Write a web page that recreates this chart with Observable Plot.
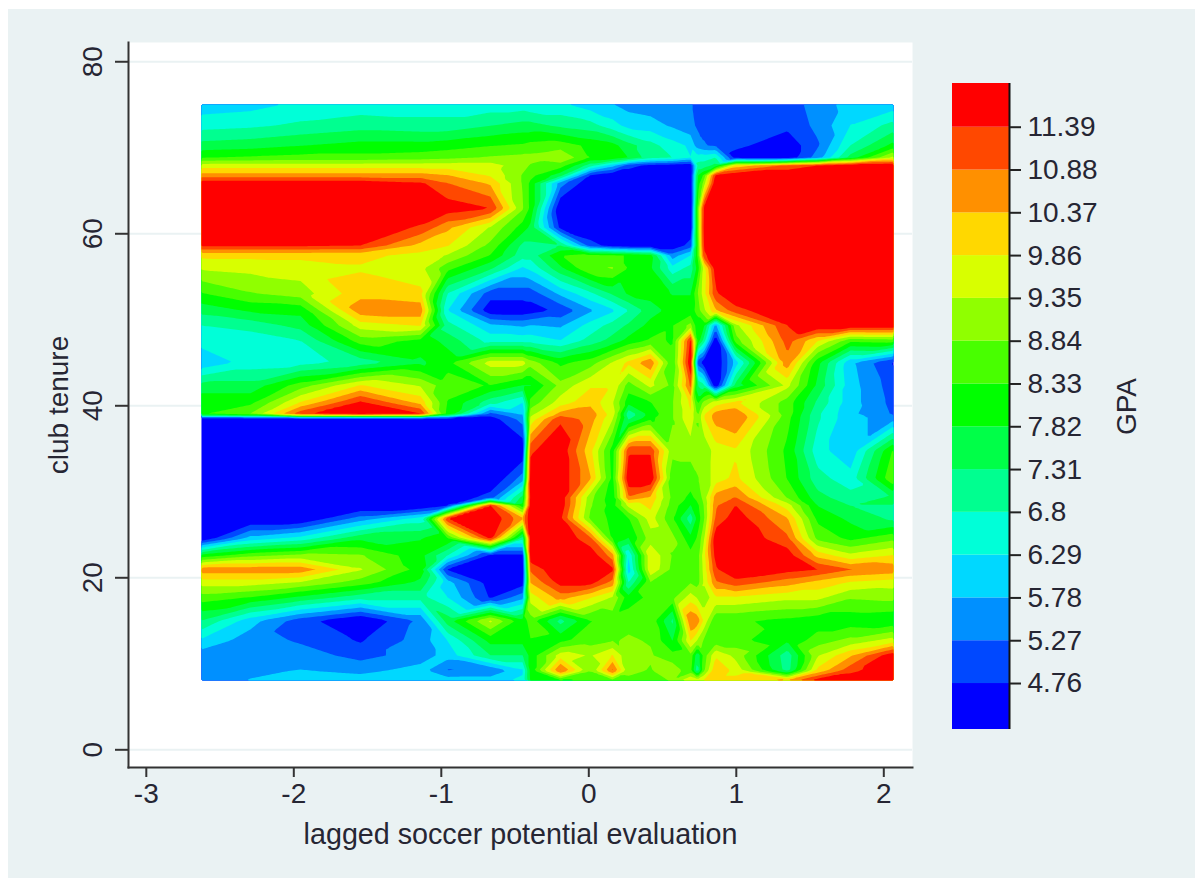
<!DOCTYPE html>
<html><head><meta charset="utf-8">
<script src="https://cdn.jsdelivr.net/npm/d3@7"></script>
<script src="https://cdn.jsdelivr.net/npm/@observablehq/plot@0.6"></script>
<style>
html,body{margin:0;padding:0;background:#fff;width:1204px;height:879px;overflow:hidden}
#panel{position:absolute;left:8px;top:9px;width:1187px;height:869px;background:#eaf2f3}
#main,#bar{position:absolute;left:0;top:0}
svg{background:transparent!important;display:block}
</style></head><body>
<div id="panel"></div><div id="main"></div><div id="bar"></div>
<script>
const xValues=[-2.626,-2.293,-1.954,-1.548,-1.141,-0.958,-0.667,-0.449,-0.395,-0.192,0.012,0.161,0.27,0.418,0.567,0.690,0.737,0.778,0.859,0.995,1.347,1.551,1.774,2.066];
const yValues=[75.03,72.59,70.27,68.87,67.94,66.78,65.85,62.94,60.73,58.64,57.48,55.97,53.06,51.08,49.34,47.59,45.03,42.36,40.38,38.99,38.52,34.80,31.55,29.34,28.41,26.90,24.57,22.59,20.97,19.45,17.71,15.03,12.71,10.97,9.22,8.06];
const gpaRows=[
[6.0,6.1,6.4,6.5,6.5,6.5,6.5,6.5,6.4,6.4,6.0,5.8,5.6,5.5,5.4,5.3,5.2,5.2,5.0,5.0,5.0,5.5,6.0,6.0],
[6.6,6.7,6.9,7.1,7.0,7.0,7.3,7.5,7.5,7.2,7.0,6.5,6.1,6.0,5.7,5.4,5.2,5.2,5.0,5.0,4.9,5.4,6.3,7.0],
[7.5,7.6,7.8,8.0,8.0,8.1,8.3,8.4,8.5,8.6,8.2,8.0,7.5,7.0,6.5,6.2,5.5,5.3,5.2,4.9,4.4,5.2,6.8,8.0],
[8.3,8.4,8.5,8.5,8.6,8.7,8.9,9.0,9.0,9.3,8.3,8.2,7.8,7.0,6.8,6.3,6.5,6.6,6.8,4.5,4.4,5.5,7.5,9.5],
[9.6,9.6,9.6,9.6,9.6,9.6,9.6,9.0,8.8,8.6,7.0,6.0,5.0,4.6,4.5,4.4,7.0,7.0,7.5,10.0,11.0,11.4,11.8,11.9],
[10.6,10.6,10.6,10.6,10.6,10.4,9.8,8.8,8.5,7.5,4.7,4.3,4.3,4.3,4.3,4.3,7.8,8.4,11.5,11.9,11.9,11.9,11.9,11.9],
[11.8,11.8,11.8,11.8,11.5,10.9,10.3,8.8,8.2,5.5,4.3,4.3,4.3,4.3,4.3,4.3,8.0,9.0,11.9,11.9,11.9,11.9,11.9,11.9],
[11.9,11.9,11.9,11.9,11.9,11.7,11.4,8.9,8.2,4.2,4.2,4.2,4.2,4.2,4.2,4.2,8.6,11.5,11.9,11.9,11.9,11.9,11.9,11.9],
[11.9,11.9,11.9,11.9,11.3,10.5,9.3,8.1,7.7,4.6,4.2,4.2,4.2,4.2,4.2,4.3,8.5,11.6,11.9,11.9,11.9,11.9,11.9,11.9],
[11.5,11.5,11.5,11.4,10.2,9.9,8.7,7.2,7.2,7.3,5.0,4.5,4.3,4.3,4.3,5.0,8.3,11.5,11.9,11.9,11.9,11.9,11.9,11.9],
[10.0,10.0,10.0,10.0,9.7,9.3,8.3,7.0,7.0,8.3,8.5,8.4,8.3,8.0,5.5,6.3,8.3,11.2,11.9,11.9,11.9,11.9,11.9,11.9],
[9.4,9.5,9.6,9.8,9.5,8.5,7.4,6.2,6.4,7.7,8.8,8.9,8.3,7.9,6.5,7.0,8.0,9.5,11.7,11.9,11.9,11.9,11.9,11.9],
[8.3,8.8,9.1,10.2,10.0,6.8,5.0,5.0,5.0,5.9,6.7,7.4,7.9,8.0,7.8,7.8,8.8,9.6,11.3,11.9,11.9,11.9,11.9,11.9],
[7.5,7.9,8.0,10.7,10.7,6.3,4.4,4.4,4.5,4.9,5.7,6.2,6.8,7.6,8.0,8.0,8.6,9.2,10.3,11.2,11.9,11.9,11.9,11.9],
[6.8,7.0,7.5,9.6,9.9,7.0,5.9,5.7,5.8,5.7,6.5,7.0,7.4,8.0,8.3,9.0,8.0,8.0,5.6,9.2,11.4,11.9,11.9,11.9],
[6.5,6.5,6.8,8.6,8.2,7.6,6.6,6.6,6.6,6.3,7.0,7.5,8.0,8.4,8.3,11.5,8.2,7.2,4.3,8.6,11.1,9.9,8.5,8.6],
[5.9,6.5,6.6,7.0,7.7,8.2,9.6,9.6,9.1,8.2,8.6,9.4,10.0,10.8,8.4,11.9,5.0,4.5,4.2,6.0,10.7,8.0,5.9,4.7],
[7.5,7.5,8.6,9.9,9.3,8.5,8.3,7.8,7.8,9.0,9.8,9.8,8.6,9.5,8.7,11.0,7.3,7.0,4.3,7.5,9.5,7.7,6.0,5.0],
[8.2,8.2,9.9,11.5,10.2,8.3,7.0,6.3,8.5,9.6,10.2,9.4,8.0,8.3,8.8,10.0,8.2,9.0,9.6,10.0,8.6,7.2,6.0,5.1],
[8.3,8.9,11.3,11.8,11.5,8.2,5.0,5.8,9.2,10.6,10.7,9.6,6.9,8.0,8.8,9.8,8.7,9.8,10.6,10.8,8.6,6.9,5.9,5.2],
[4.3,4.3,4.3,4.3,4.5,4.5,4.5,5.5,9.5,11.3,10.6,9.4,7.2,8.2,8.8,9.8,8.8,9.8,10.6,10.9,8.5,6.9,5.9,5.6],
[4.2,4.2,4.2,4.2,4.2,4.2,4.2,4.3,11.3,11.8,10.0,8.1,11.3,11.3,9.0,9.0,9.0,8.9,9.6,9.8,8.2,6.5,5.9,8.4],
[4.2,4.2,4.2,4.2,4.2,4.2,4.2,5.5,11.8,11.8,10.4,8.2,11.9,11.9,8.5,8.6,8.8,9.0,9.6,10.0,8.3,7.0,6.5,8.8],
[4.2,4.2,4.2,4.2,4.2,4.3,5.0,7.5,11.6,11.8,9.0,8.0,10.8,10.3,8.7,8.2,8.5,9.0,10.6,10.9,8.8,7.5,7.0,7.4],
[4.2,4.2,4.2,4.2,4.2,4.7,11.4,8.0,11.7,11.8,8.9,8.1,9.5,10.0,8.6,7.8,8.2,8.8,10.8,11.4,9.6,7.8,7.3,7.3],
[4.2,4.2,4.2,5.5,6.5,11.4,11.9,10.5,11.9,11.5,8.7,8.2,8.3,9.6,8.4,7.0,8.0,8.7,11.0,11.7,10.4,8.2,7.7,7.2],
[4.3,6.0,6.5,7.7,7.8,8.3,11.5,7.0,11.7,11.9,11.0,8.3,7.8,9.1,9.0,8.0,8.4,9.2,11.8,11.9,11.0,8.7,8.2,8.7],
[8.0,8.7,9.0,8.9,8.0,6.8,4.6,4.6,11.8,11.9,11.8,10.6,6.3,9.8,8.8,8.5,8.6,9.6,11.6,11.9,11.7,10.2,9.5,9.9],
[10.7,10.7,10.7,9.4,8.1,4.7,4.3,4.3,11.0,11.9,11.9,11.5,6.0,9.8,8.7,8.8,8.6,9.5,11.3,11.9,11.6,11.4,10.9,10.7],
[9.6,9.6,9.3,8.6,7.7,6.0,4.5,4.5,10.4,11.6,11.6,10.7,6.8,8.8,8.6,8.8,8.6,9.4,10.8,11.2,10.6,10.2,9.8,9.6],
[8.6,8.3,7.7,7.0,7.0,6.3,4.7,5.6,9.6,10.6,9.9,9.3,8.0,8.5,8.7,9.6,9.3,8.9,9.8,9.8,9.5,9.5,8.9,9.0],
[7.3,6.0,5.0,4.2,5.4,7.6,9.5,8.0,8.6,7.1,8.3,8.5,8.7,8.7,7.2,10.9,10.7,9.8,8.4,8.4,8.2,8.0,8.0,7.9],
[6.2,5.5,5.2,4.7,5.5,6.3,8.0,8.0,8.3,8.2,8.6,8.8,8.9,8.8,7.8,9.9,9.3,8.8,8.5,8.5,7.9,8.6,9.0,9.6],
[5.5,5.5,5.5,5.1,5.5,6.0,7.3,7.3,8.0,9.6,9.3,9.9,8.9,8.9,8.5,8.7,7.4,8.5,9.8,9.2,7.0,9.3,10.3,11.8],
[5.6,5.7,5.8,5.6,6.0,5.2,5.3,6.2,8.0,11.0,8.9,11.0,9.0,8.8,9.2,8.5,6.9,8.7,10.3,9.7,7.1,10.0,11.2,11.9],
[5.6,5.8,6.0,6.1,6.1,6.1,6.1,6.4,7.9,8.2,8.4,8.6,8.7,8.6,8.9,9.9,9.6,9.9,10.0,10.0,10.5,11.7,11.9,11.9]
];
const levels=[4.76,5.27,5.78,6.29,6.8,7.31,7.82,8.33,8.84,9.35,9.86,10.37,10.88,11.39];
const bandColors=["#0000ff","#0048ff","#0090ff","#00d8ff","#00ffd8","#00ff90","#00ff48","#00ff00","#48ff00","#90ff00","#d8ff00","#ffd800","#ff9000","#ff4800","#ff0000"];
const xTicks=[-3,-2,-1,0,1,2];
const yTicks=[0,20,40,60,80];
const barLow=4.212, barHigh=11.911;

const points=gpaRows.flatMap((row,i)=>row.map((z,j)=>({x:xValues[j],y:yValues[i],z})));
const bounds=[barLow,...levels,barHigh];
const bands=bandColors.map((c,i)=>({y1:bounds[i],y2:bounds[i+1],v:(bounds[i]+bounds[i+1])/2}));
const colorScale={type:"threshold",domain:levels,range:bandColors};
const font="Liberation Sans, Arial, sans-serif";
const ink="#262633";

// Contour interpolator for a rectilinear table: each cell is split along its
// flatter diagonal, so ridges and edges stay straight as in a triangulated contour.
function cellInterpolate(index,width,height,X,Y,V){
  const cols=d3.sort(new Set(Array.from(index,i=>X[i])));
  const rows=d3.sort(new Set(Array.from(index,i=>Y[i])));
  const at=new Map();
  for(const i of index) at.set(X[i]+"|"+Y[i],V[i]);
  const W=new Float64Array(width*height);
  const g=(c,r)=>at.get(cols[c]+"|"+rows[r]);
  for(let py=0;py<height;py++){
    const yy=py+.5;
    const r=Math.max(0,Math.min(rows.length-2,d3.bisectRight(rows,yy)-1));
    const t=Math.max(0,Math.min(1,(yy-rows[r])/(rows[r+1]-rows[r])));
    for(let px=0;px<width;px++){
      const xx=px+.5;
      const c=Math.max(0,Math.min(cols.length-2,d3.bisectRight(cols,xx)-1));
      const s=Math.max(0,Math.min(1,(xx-cols[c])/(cols[c+1]-cols[c])));
      const a=g(c,r),b=g(c+1,r),d=g(c,r+1),e=g(c+1,r+1);
      let v;
      if(Math.abs(a-e)<=Math.abs(b-d)){
        v=s>=t?a+s*(b-a)+t*(e-b):a+t*(d-a)+s*(e-d);
      }else{
        v=s+t<=1?a+s*(b-a)+t*(d-a):e+(1-s)*(d-e)+(1-t)*(b-e);
      }
      W[py*width+px]=v;
    }
  }
  return W;
}

document.getElementById("main").append(Plot.plot({
  width:1204,height:879,
  marginLeft:128,marginRight:292,marginTop:42,marginBottom:112,
  style:{fontFamily:font,fontSize:"28px",color:ink,background:"transparent"},
  x:{domain:[-3.1207,2.1946]},
  y:{domain:[-2.058,82.24]},
  color:colorScale,
  marks:[
    Plot.frame({fill:"#fff",stroke:"none"}),
    Plot.ruleY(yTicks,{stroke:"#eaf2f3",strokeWidth:2}),
    Plot.contour(points,{x:"x",y:"y",fill:"z",thresholds:[3.5,...levels],interpolate:cellInterpolate,
      x1:xValues[0],x2:xValues[xValues.length-1],y1:yValues[yValues.length-1],y2:yValues[0],stroke:"none"}),
    Plot.frame({anchor:"left",stroke:"#333",strokeWidth:2}),
    Plot.frame({anchor:"bottom",stroke:"#333",strokeWidth:2}),
    Plot.axisX({ticks:xTicks,tickSize:10,tickPadding:6,tickFormat:d=>String(d),stroke:"#333",strokeWidth:2,fontSize:28,label:null}),
    Plot.text(["lagged soccer potential evaluation"],{frameAnchor:"bottom",lineAnchor:"middle",dy:67,fontSize:28.7,fill:ink}),
    Plot.axisY({ticks:yTicks,tickSize:13,tickPadding:14,tickRotate:-90,stroke:"#333",strokeWidth:2,fontSize:28,
      label:"club tenure",labelAnchor:"center",labelArrow:"none",labelOffset:80})
  ]
}));

const barPlot=Plot.plot({
  width:252,height:666,
  marginLeft:0,marginRight:195,marginTop:10,marginBottom:10,
  style:{fontFamily:font,fontSize:"28px",color:ink,background:"transparent"},
  x:{domain:[0,1],axis:null},
  y:{domain:[barLow,barHigh]},
  color:colorScale,
  marks:[
    Plot.rect(bands,{x1:0,x2:1,y1:"y1",y2:"y2",fill:"v"}),
    Plot.ruleX([1],{stroke:"#111",strokeWidth:2}),
    Plot.axisY({anchor:"right",ticks:levels,tickFormat:d=>String(d),tickSize:11,tickPadding:7,stroke:"#222",strokeWidth:2,fontSize:28,label:null}),
    Plot.text(["GPA"],{frameAnchor:"middle",dx:146,rotate:-90,fontSize:28,fill:ink})
  ]
});
const barHolder=document.getElementById("bar");
barHolder.style.left="952px";barHolder.style.top="73px";
barHolder.append(barPlot);
</script>
</body></html>
